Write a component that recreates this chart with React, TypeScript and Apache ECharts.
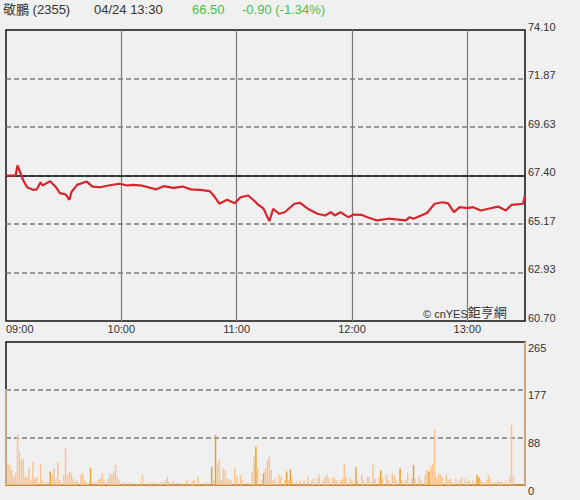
import React, { useEffect, useRef } from 'react';
import * as echarts from 'echarts';

const stockName = '敬鵬 (2355)';
const stamp = '04/24 13:30';
const lastPrice = '66.50';
const changeText = '-0.90 (-1.34%)';
const prevClose = 67.4;
const priceMin = 60.7;
const priceMax = 74.1;
const volMax = 265;
const hourLabels = ['09:00', '10:00', '11:00', '12:00', '13:00'];

// minutes after 09:00
const priceMinutes = [0, 2, 5, 6, 9, 11, 14, 16, 18, 19, 23, 26, 28, 31, 33, 34, 37, 42, 45, 49, 54, 59, 63, 66, 71, 78, 82, 87, 92, 96, 101, 106, 108, 111, 115, 119, 122, 126, 129, 131, 134, 137, 139, 142, 145, 150, 153, 157, 162, 166, 169, 171, 174, 178, 181, 185, 188, 193, 199, 204, 208, 210, 212, 216, 219, 223, 227, 230, 233, 236, 240, 243, 247, 251, 256, 260, 263, 269, 270];
const prices = [67.4, 67.4, 67.4, 67.86, 67.17, 66.86, 66.74, 66.76, 67.09, 66.94, 67.14, 66.86, 66.59, 66.53, 66.28, 66.63, 66.97, 67.12, 66.89, 66.86, 66.95, 67.02, 66.94, 66.97, 66.93, 66.76, 66.91, 66.83, 66.89, 66.76, 66.74, 66.68, 66.48, 66.1, 66.28, 66.12, 66.4, 66.48, 66.25, 66.07, 65.87, 65.3, 65.87, 65.64, 65.71, 66.1, 66.14, 65.87, 65.64, 65.56, 65.71, 65.56, 65.71, 65.48, 65.6, 65.59, 65.48, 65.33, 65.41, 65.37, 65.33, 65.48, 65.41, 65.56, 65.67, 66.1, 66.17, 66.12, 65.71, 65.94, 65.9, 65.94, 65.79, 65.87, 65.97, 65.79, 66.05, 66.1, 66.5];

const volMinutes = [0, 1, 2, 3, 4, 5, 6, 7, 8, 9, 10, 11, 12, 13, 14, 15, 16, 18, 19, 21, 23, 24, 25, 26, 27, 28, 30, 31, 32, 33, 34, 35, 36, 37, 39, 40, 41, 42, 44, 46, 48, 49, 50, 51, 53, 54, 55, 56, 57, 58, 59, 61, 62, 64, 66, 68, 70, 71, 73, 75, 76, 78, 80, 81, 83, 84, 85, 87, 90, 92, 94, 96, 97, 98, 100, 103, 105, 107, 108, 109, 110, 111, 112, 113, 114, 115, 116, 117, 119, 120, 122, 123, 126, 128, 129, 130, 131, 133, 134, 135, 136, 137, 138, 139, 140, 142, 143, 145, 146, 147, 148, 149, 151, 153, 155, 157, 159, 160, 162, 163, 165, 166, 167, 168, 170, 171, 172, 174, 175, 176, 177, 179, 180, 182, 183, 185, 186, 188, 189, 191, 192, 194, 195, 196, 198, 199, 201, 202, 203, 205, 206, 208, 209, 211, 212, 213, 215, 216, 218, 219, 220, 221, 222, 223, 224, 225, 226, 227, 229, 230, 231, 232, 234, 236, 237, 239, 240, 241, 243, 245, 246, 247, 248, 250, 251, 252, 254, 256, 257, 258, 260, 262, 263, 264, 270];
const volumes = [178, 40, 37, 28, 15, 22, 93, 62, 46, 49, 15, 15, 31, 9, 43, 12, 15, 40, 9, 6, 25, 19, 31, 12, 43, 9, 19, 68, 19, 25, 22, 12, 6, 9, 19, 22, 9, 4, 31, 6, 9, 12, 22, 9, 12, 22, 19, 25, 37, 15, 9, 5, 4, 4, 3, 3, 4, 19, 3, 3, 6, 3, 3, 6, 9, 15, 6, 8, 4, 3, 10, 3, 8, 9, 15, 4, 6, 33, 9, 93, 40, 46, 9, 31, 28, 12, 10, 9, 31, 15, 19, 9, 6, 25, 53, 71, 31, 9, 22, 31, 46, 54, 28, 9, 12, 19, 15, 9, 25, 9, 29, 12, 6, 9, 9, 15, 8, 12, 12, 19, 9, 15, 19, 12, 15, 12, 9, 9, 12, 40, 15, 12, 9, 33, 9, 19, 9, 15, 15, 37, 12, 15, 28, 12, 19, 9, 22, 17, 9, 31, 9, 9, 22, 12, 37, 12, 15, 9, 19, 28, 25, 34, 40, 102, 15, 22, 19, 15, 19, 9, 12, 6, 12, 9, 15, 12, 6, 9, 9, 19, 15, 9, 6, 9, 19, 12, 6, 9, 6, 6, 9, 15, 111, 15, 265];
const darkVolMinutes = [23, 44, 107, 109, 130, 134, 146, 148, 182, 195, 205, 212, 220, 245, 246];

const FONT = "'Liberation Sans', Arial, 'Noto Sans CJK TC', sans-serif";
const LIGHT_BAR = '#f7c592';
const DARK_BAR = '#e9a232';
const GRID_DASH = { color: '#7c7c7c', width: 1.5, type: [5, 3] as number[] };

export default function App() {
  const ref = useRef<HTMLDivElement>(null);
  useEffect(() => {
    if (!ref.current) return;
    const chart = echarts.init(ref.current, null, { renderer: 'svg' });
    const priceData = priceMinutes.map((m, i) => [m, prices[i]]);
    const volData = volMinutes.map((m, i) => ({
      value: [m, volumes[i]],
      itemStyle: { color: darkVolMinutes.includes(m) ? DARK_BAR : LIGHT_BAR },
    }));
    chart.setOption({
      animation: false,
      backgroundColor: '#f0f0f0',
      textStyle: { fontFamily: FONT },
      grid: [
        { left: 6, right: 55, top: 30, height: 291, show: true, borderColor: '#111', borderWidth: 1.5, backgroundColor: 'transparent' },
        { left: 6, right: 55, top: 342, height: 143, show: true, borderColor: '#111', borderWidth: 1.5, backgroundColor: 'transparent' },
      ],
      xAxis: [
        {
          type: 'value', gridIndex: 0, min: 0, max: 270, interval: 60,
          axisLine: { show: false }, axisTick: { show: false },
          axisLabel: {
            color: '#333', fontSize: 11, fontFamily: FONT, margin: 2, alignMinLabel: 'left',
            formatter: (v: number) => (v % 60 === 0 && v < 270 ? hourLabels[v / 60] : ''),
          },
          splitLine: { show: true, showMinLine: false, showMaxLine: false, lineStyle: { color: '#7a7a7a', width: 1.2 } },
        },
        {
          type: 'value', gridIndex: 1, min: 0, max: 270, interval: 60,
          axisLine: { show: true, lineStyle: { color: '#eea24a', width: 1.5 } },
          axisTick: { show: false }, axisLabel: { show: false }, splitLine: { show: false },
        },
      ],
      yAxis: [
        {
          type: 'value', gridIndex: 0, position: 'right', min: priceMin, max: priceMax, interval: 2.23334,
          axisLine: { show: false }, axisTick: { show: false },
          axisLabel: {
            color: '#333', fontSize: 11, fontFamily: FONT, margin: 3, verticalAlign: 'middle',
            formatter: (v: number) => '{p|' + v.toFixed(2) + '}',
            rich: { p: { fontSize: 11, fontFamily: FONT, color: '#333', padding: [0, 0, 6, 0] } },
          },
          splitLine: { show: true, showMinLine: false, showMaxLine: false, lineStyle: GRID_DASH },
        },
        {
          type: 'value', gridIndex: 1, position: 'right', min: 0, max: volMax, interval: 88.34,
          axisLine: { show: false }, axisTick: { show: false },
          axisLabel: {
            color: '#333', fontSize: 11, fontFamily: FONT, margin: 3, verticalAlign: 'top',
            formatter: (v: number) => String(Math.round(v)),
          },
          splitLine: { show: true, showMinLine: false, showMaxLine: false, lineStyle: GRID_DASH },
        },
      ],
      series: [
        {
          type: 'line', xAxisIndex: 0, yAxisIndex: 0, data: priceData, showSymbol: false, symbol: 'none',
          lineStyle: { color: '#d6262b', width: 2.2 }, z: 5,
          markLine: {
            silent: true, symbol: 'none', label: { show: false },
            lineStyle: { color: '#111', width: 1.5, type: 'solid' },
            data: [{ yAxis: prevClose }],
          },
        },
        {
          type: 'bar', xAxisIndex: 1, yAxisIndex: 1, data: volData, barWidth: 1.5, clip: false,
        },
      ],
      graphic: [
        { type: 'text', left: 3, top: 3, style: { text: stockName, fill: '#333', font: `13px ${FONT}` } },
        { type: 'text', left: 94, top: 3, style: { text: stamp, fill: '#333', font: `13px ${FONT}` } },
        { type: 'text', left: 192, top: 3, style: { text: lastPrice, fill: '#48c248', font: `13px ${FONT}` } },
        { type: 'text', left: 242, top: 3, style: { text: changeText, fill: '#48c248', font: `13px ${FONT}` } },
        {
          type: 'text', left: 423, top: 306,
          style: {
            text: '{a|© cnYES}{b|鉅亨網}',
            rich: {
              a: { fontSize: 11, fontFamily: FONT, fill: '#333', verticalAlign: 'bottom' },
              b: { fontSize: 13, fontFamily: FONT, fill: '#333', verticalAlign: 'bottom' },
            },
          },
        },
      ],
    });
    return () => chart.dispose();
  }, []);
  return <div ref={ref} style={{ position: 'fixed', left: 0, top: 0, width: 580, height: 500 }} />;
}
